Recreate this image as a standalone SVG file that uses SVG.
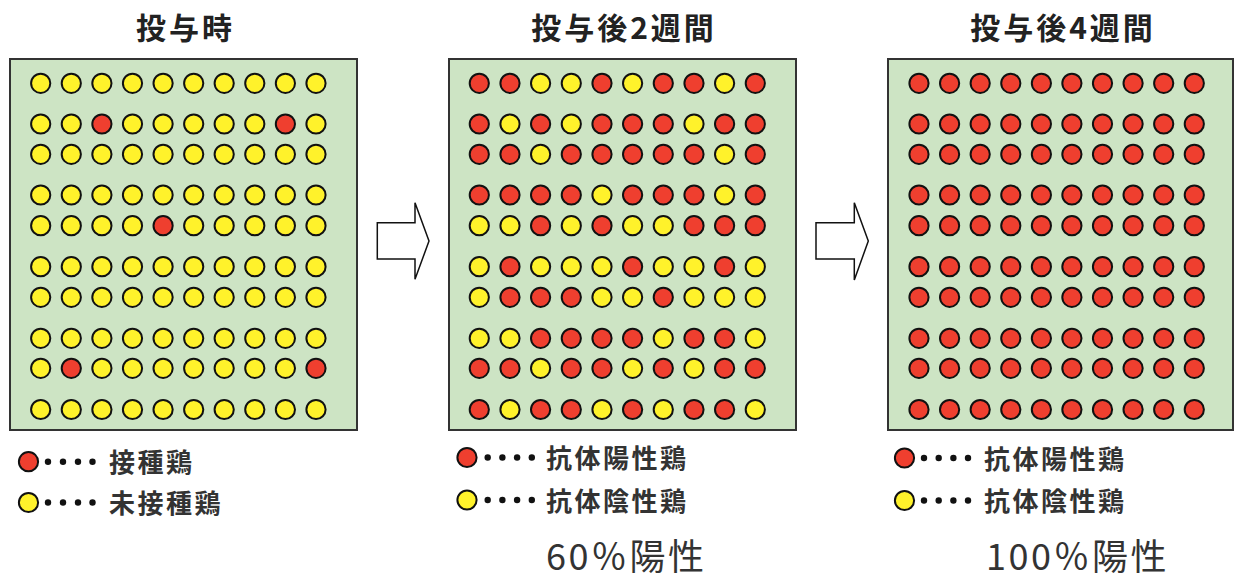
<svg xmlns="http://www.w3.org/2000/svg" width="1234" height="579" viewBox="0 0 1234 579">
<style>
.panel{fill:#cde4c4;stroke:#333;stroke-width:2}
.R{fill:#ef3f2f;stroke:#111;stroke-width:2}
.Y{fill:#fff22b;stroke:#111;stroke-width:2}
.dot{fill:#111}
.title{font-family:"Noto Sans CJK JP",sans-serif;font-weight:bold;font-size:30px;fill:#222;text-anchor:middle;letter-spacing:3px}
.leg{font-family:"Noto Sans CJK JP",sans-serif;font-weight:bold;font-size:26px;fill:#333;letter-spacing:2.5px}
.pct{font-family:"Noto Sans CJK JP",sans-serif;font-size:36px;fill:#333;letter-spacing:2.5px}
.arrow{fill:#fff;stroke:#111;stroke-width:1.5;stroke-linejoin:miter}
</style>
<defs>
<circle id="r" r="9.6" class="R"/>
<circle id="y" r="9.6" class="Y"/>
<circle id="d" r="3.2" class="dot"/>
</defs>

<g id="panel1">
<text class="title" x="185.5" y="39">投与時</text>
<rect class="panel" x="10" y="59" width="347" height="371"/>
<g transform="translate(0,83.3)"><use href="#y" x="40.7"/><use href="#y" x="71.3"/><use href="#y" x="101.9"/><use href="#y" x="132.5"/><use href="#y" x="163.1"/><use href="#y" x="193.7"/><use href="#y" x="224.2"/><use href="#y" x="254.8"/><use href="#y" x="285.4"/><use href="#y" x="316"/></g>
<g transform="translate(0,124)"><use href="#y" x="40.7"/><use href="#y" x="71.3"/><use href="#r" x="101.9"/><use href="#y" x="132.5"/><use href="#y" x="163.1"/><use href="#y" x="193.7"/><use href="#y" x="224.2"/><use href="#y" x="254.8"/><use href="#r" x="285.4"/><use href="#y" x="316"/></g>
<g transform="translate(0,154.3)"><use href="#y" x="40.7"/><use href="#y" x="71.3"/><use href="#y" x="101.9"/><use href="#y" x="132.5"/><use href="#y" x="163.1"/><use href="#y" x="193.7"/><use href="#y" x="224.2"/><use href="#y" x="254.8"/><use href="#y" x="285.4"/><use href="#y" x="316"/></g>
<g transform="translate(0,195)"><use href="#y" x="40.7"/><use href="#y" x="71.3"/><use href="#y" x="101.9"/><use href="#y" x="132.5"/><use href="#y" x="163.1"/><use href="#y" x="193.7"/><use href="#y" x="224.2"/><use href="#y" x="254.8"/><use href="#y" x="285.4"/><use href="#y" x="316"/></g>
<g transform="translate(0,225.7)"><use href="#y" x="40.7"/><use href="#y" x="71.3"/><use href="#y" x="101.9"/><use href="#y" x="132.5"/><use href="#r" x="163.1"/><use href="#y" x="193.7"/><use href="#y" x="224.2"/><use href="#y" x="254.8"/><use href="#y" x="285.4"/><use href="#y" x="316"/></g>
<g transform="translate(0,266.7)"><use href="#y" x="40.7"/><use href="#y" x="71.3"/><use href="#y" x="101.9"/><use href="#y" x="132.5"/><use href="#y" x="163.1"/><use href="#y" x="193.7"/><use href="#y" x="224.2"/><use href="#y" x="254.8"/><use href="#y" x="285.4"/><use href="#y" x="316"/></g>
<g transform="translate(0,297.3)"><use href="#y" x="40.7"/><use href="#y" x="71.3"/><use href="#y" x="101.9"/><use href="#y" x="132.5"/><use href="#y" x="163.1"/><use href="#y" x="193.7"/><use href="#y" x="224.2"/><use href="#y" x="254.8"/><use href="#y" x="285.4"/><use href="#y" x="316"/></g>
<g transform="translate(0,338.3)"><use href="#y" x="40.7"/><use href="#y" x="71.3"/><use href="#y" x="101.9"/><use href="#y" x="132.5"/><use href="#y" x="163.1"/><use href="#y" x="193.7"/><use href="#y" x="224.2"/><use href="#y" x="254.8"/><use href="#y" x="285.4"/><use href="#y" x="316"/></g>
<g transform="translate(0,368.3)"><use href="#y" x="40.7"/><use href="#r" x="71.3"/><use href="#y" x="101.9"/><use href="#y" x="132.5"/><use href="#y" x="163.1"/><use href="#y" x="193.7"/><use href="#y" x="224.2"/><use href="#y" x="254.8"/><use href="#y" x="285.4"/><use href="#r" x="316"/></g>
<g transform="translate(0,409.5)"><use href="#y" x="40.7"/><use href="#y" x="71.3"/><use href="#y" x="101.9"/><use href="#y" x="132.5"/><use href="#y" x="163.1"/><use href="#y" x="193.7"/><use href="#y" x="224.2"/><use href="#y" x="254.8"/><use href="#y" x="285.4"/><use href="#y" x="316"/></g>
</g>

<g id="legend1">
<use href="#r" x="28.5" y="461.7"/><use href="#d" x="48" y="461.7"/><use href="#d" x="63" y="461.7"/><use href="#d" x="78" y="461.7"/><use href="#d" x="92.5" y="461.7"/>
<text class="leg" x="109" y="472">接種鶏</text>
<use href="#y" x="28.5" y="502.5"/><use href="#d" x="48" y="502.5"/><use href="#d" x="63" y="502.5"/><use href="#d" x="78" y="502.5"/><use href="#d" x="92.5" y="502.5"/>
<text class="leg" x="109" y="513">未接種鶏</text>
</g>

<g id="panel2">
<text class="title" x="624" y="39">投与後2週間</text>
<rect class="panel" x="449" y="59" width="347" height="371"/>
<g transform="translate(0,83.3)"><use href="#r" x="479.3"/><use href="#r" x="510"/><use href="#y" x="540.6"/><use href="#y" x="571.3"/><use href="#r" x="602"/><use href="#y" x="632.6"/><use href="#r" x="663.3"/><use href="#r" x="694"/><use href="#y" x="724.6"/><use href="#r" x="755.3"/></g>
<g transform="translate(0,124)"><use href="#r" x="479.3"/><use href="#y" x="510"/><use href="#r" x="540.6"/><use href="#y" x="571.3"/><use href="#r" x="602"/><use href="#r" x="632.6"/><use href="#r" x="663.3"/><use href="#y" x="694"/><use href="#r" x="724.6"/><use href="#r" x="755.3"/></g>
<g transform="translate(0,154.3)"><use href="#r" x="479.3"/><use href="#r" x="510"/><use href="#y" x="540.6"/><use href="#r" x="571.3"/><use href="#r" x="602"/><use href="#r" x="632.6"/><use href="#r" x="663.3"/><use href="#r" x="694"/><use href="#y" x="724.6"/><use href="#r" x="755.3"/></g>
<g transform="translate(0,195)"><use href="#r" x="479.3"/><use href="#r" x="510"/><use href="#r" x="540.6"/><use href="#r" x="571.3"/><use href="#y" x="602"/><use href="#r" x="632.6"/><use href="#r" x="663.3"/><use href="#r" x="694"/><use href="#y" x="724.6"/><use href="#r" x="755.3"/></g>
<g transform="translate(0,225.7)"><use href="#y" x="479.3"/><use href="#y" x="510"/><use href="#r" x="540.6"/><use href="#y" x="571.3"/><use href="#r" x="602"/><use href="#y" x="632.6"/><use href="#y" x="663.3"/><use href="#r" x="694"/><use href="#r" x="724.6"/><use href="#r" x="755.3"/></g>
<g transform="translate(0,266.7)"><use href="#y" x="479.3"/><use href="#r" x="510"/><use href="#y" x="540.6"/><use href="#y" x="571.3"/><use href="#y" x="602"/><use href="#r" x="632.6"/><use href="#y" x="663.3"/><use href="#y" x="694"/><use href="#r" x="724.6"/><use href="#y" x="755.3"/></g>
<g transform="translate(0,297.3)"><use href="#y" x="479.3"/><use href="#r" x="510"/><use href="#r" x="540.6"/><use href="#r" x="571.3"/><use href="#y" x="602"/><use href="#y" x="632.6"/><use href="#r" x="663.3"/><use href="#y" x="694"/><use href="#y" x="724.6"/><use href="#y" x="755.3"/></g>
<g transform="translate(0,338.3)"><use href="#y" x="479.3"/><use href="#y" x="510"/><use href="#r" x="540.6"/><use href="#r" x="571.3"/><use href="#r" x="602"/><use href="#r" x="632.6"/><use href="#y" x="663.3"/><use href="#r" x="694"/><use href="#r" x="724.6"/><use href="#y" x="755.3"/></g>
<g transform="translate(0,368.3)"><use href="#r" x="479.3"/><use href="#r" x="510"/><use href="#y" x="540.6"/><use href="#r" x="571.3"/><use href="#r" x="602"/><use href="#y" x="632.6"/><use href="#r" x="663.3"/><use href="#y" x="694"/><use href="#r" x="724.6"/><use href="#r" x="755.3"/></g>
<g transform="translate(0,409.5)"><use href="#r" x="479.3"/><use href="#y" x="510"/><use href="#r" x="540.6"/><use href="#r" x="571.3"/><use href="#y" x="602"/><use href="#r" x="632.6"/><use href="#y" x="663.3"/><use href="#r" x="694"/><use href="#r" x="724.6"/><use href="#y" x="755.3"/></g>
</g>

<g id="legend2">
<use href="#r" x="467" y="457.5"/><use href="#d" x="487.7" y="457.5"/><use href="#d" x="502.4" y="457.5"/><use href="#d" x="517.1" y="457.5"/><use href="#d" x="531.8" y="457.5"/>
<text class="leg" x="546" y="468">抗体陽性鶏</text>
<use href="#y" x="467" y="500"/><use href="#d" x="487.7" y="500"/><use href="#d" x="502.4" y="500"/><use href="#d" x="517.1" y="500"/><use href="#d" x="531.8" y="500"/>
<text class="leg" x="546" y="510.5">抗体陰性鶏</text>
<text class="pct" x="546" y="569.5">60％陽性</text>
</g>

<g id="panel3">
<text class="title" x="1063" y="39">投与後4週間</text>
<rect class="panel" x="888" y="59" width="345" height="371"/>
<g transform="translate(0,83.3)"><use href="#r" x="919"/><use href="#r" x="949.6"/><use href="#r" x="980.2"/><use href="#r" x="1010.8"/><use href="#r" x="1041.4"/><use href="#r" x="1071.9"/><use href="#r" x="1102.5"/><use href="#r" x="1133.1"/><use href="#r" x="1163.7"/><use href="#r" x="1194.3"/></g>
<g transform="translate(0,124)"><use href="#r" x="919"/><use href="#r" x="949.6"/><use href="#r" x="980.2"/><use href="#r" x="1010.8"/><use href="#r" x="1041.4"/><use href="#r" x="1071.9"/><use href="#r" x="1102.5"/><use href="#r" x="1133.1"/><use href="#r" x="1163.7"/><use href="#r" x="1194.3"/></g>
<g transform="translate(0,154.3)"><use href="#r" x="919"/><use href="#r" x="949.6"/><use href="#r" x="980.2"/><use href="#r" x="1010.8"/><use href="#r" x="1041.4"/><use href="#r" x="1071.9"/><use href="#r" x="1102.5"/><use href="#r" x="1133.1"/><use href="#r" x="1163.7"/><use href="#r" x="1194.3"/></g>
<g transform="translate(0,195)"><use href="#r" x="919"/><use href="#r" x="949.6"/><use href="#r" x="980.2"/><use href="#r" x="1010.8"/><use href="#r" x="1041.4"/><use href="#r" x="1071.9"/><use href="#r" x="1102.5"/><use href="#r" x="1133.1"/><use href="#r" x="1163.7"/><use href="#r" x="1194.3"/></g>
<g transform="translate(0,225.7)"><use href="#r" x="919"/><use href="#r" x="949.6"/><use href="#r" x="980.2"/><use href="#r" x="1010.8"/><use href="#r" x="1041.4"/><use href="#r" x="1071.9"/><use href="#r" x="1102.5"/><use href="#r" x="1133.1"/><use href="#r" x="1163.7"/><use href="#r" x="1194.3"/></g>
<g transform="translate(0,266.7)"><use href="#r" x="919"/><use href="#r" x="949.6"/><use href="#r" x="980.2"/><use href="#r" x="1010.8"/><use href="#r" x="1041.4"/><use href="#r" x="1071.9"/><use href="#r" x="1102.5"/><use href="#r" x="1133.1"/><use href="#r" x="1163.7"/><use href="#r" x="1194.3"/></g>
<g transform="translate(0,297.3)"><use href="#r" x="919"/><use href="#r" x="949.6"/><use href="#r" x="980.2"/><use href="#r" x="1010.8"/><use href="#r" x="1041.4"/><use href="#r" x="1071.9"/><use href="#r" x="1102.5"/><use href="#r" x="1133.1"/><use href="#r" x="1163.7"/><use href="#r" x="1194.3"/></g>
<g transform="translate(0,338.3)"><use href="#r" x="919"/><use href="#r" x="949.6"/><use href="#r" x="980.2"/><use href="#r" x="1010.8"/><use href="#r" x="1041.4"/><use href="#r" x="1071.9"/><use href="#r" x="1102.5"/><use href="#r" x="1133.1"/><use href="#r" x="1163.7"/><use href="#r" x="1194.3"/></g>
<g transform="translate(0,368.3)"><use href="#r" x="919"/><use href="#r" x="949.6"/><use href="#r" x="980.2"/><use href="#r" x="1010.8"/><use href="#r" x="1041.4"/><use href="#r" x="1071.9"/><use href="#r" x="1102.5"/><use href="#r" x="1133.1"/><use href="#r" x="1163.7"/><use href="#r" x="1194.3"/></g>
<g transform="translate(0,409.5)"><use href="#r" x="919"/><use href="#r" x="949.6"/><use href="#r" x="980.2"/><use href="#r" x="1010.8"/><use href="#r" x="1041.4"/><use href="#r" x="1071.9"/><use href="#r" x="1102.5"/><use href="#r" x="1133.1"/><use href="#r" x="1163.7"/><use href="#r" x="1194.3"/></g>
</g>

<g id="legend3">
<use href="#r" x="904.5" y="458"/><use href="#d" x="924" y="458"/><use href="#d" x="938.7" y="458"/><use href="#d" x="953.4" y="458"/><use href="#d" x="968" y="458"/>
<text class="leg" x="984" y="468.5">抗体陽性鶏</text>
<use href="#y" x="904.5" y="500.5"/><use href="#d" x="924" y="500.5"/><use href="#d" x="938.7" y="500.5"/><use href="#d" x="953.4" y="500.5"/><use href="#d" x="968" y="500.5"/>
<text class="leg" x="984" y="511">抗体陰性鶏</text>
<text class="pct" x="986" y="569.5">100％陽性</text>
</g>

<g id="connectors">
<path class="arrow" d="M377.3,222.7 H415 V202.7 L429,241 L415,279.3 V259 H377.3 Z"/>
<path class="arrow" d="M816,222.7 H854.3 V202.7 L868.3,241 L854.3,280 V259 H816 Z"/>
</g>
</svg>
